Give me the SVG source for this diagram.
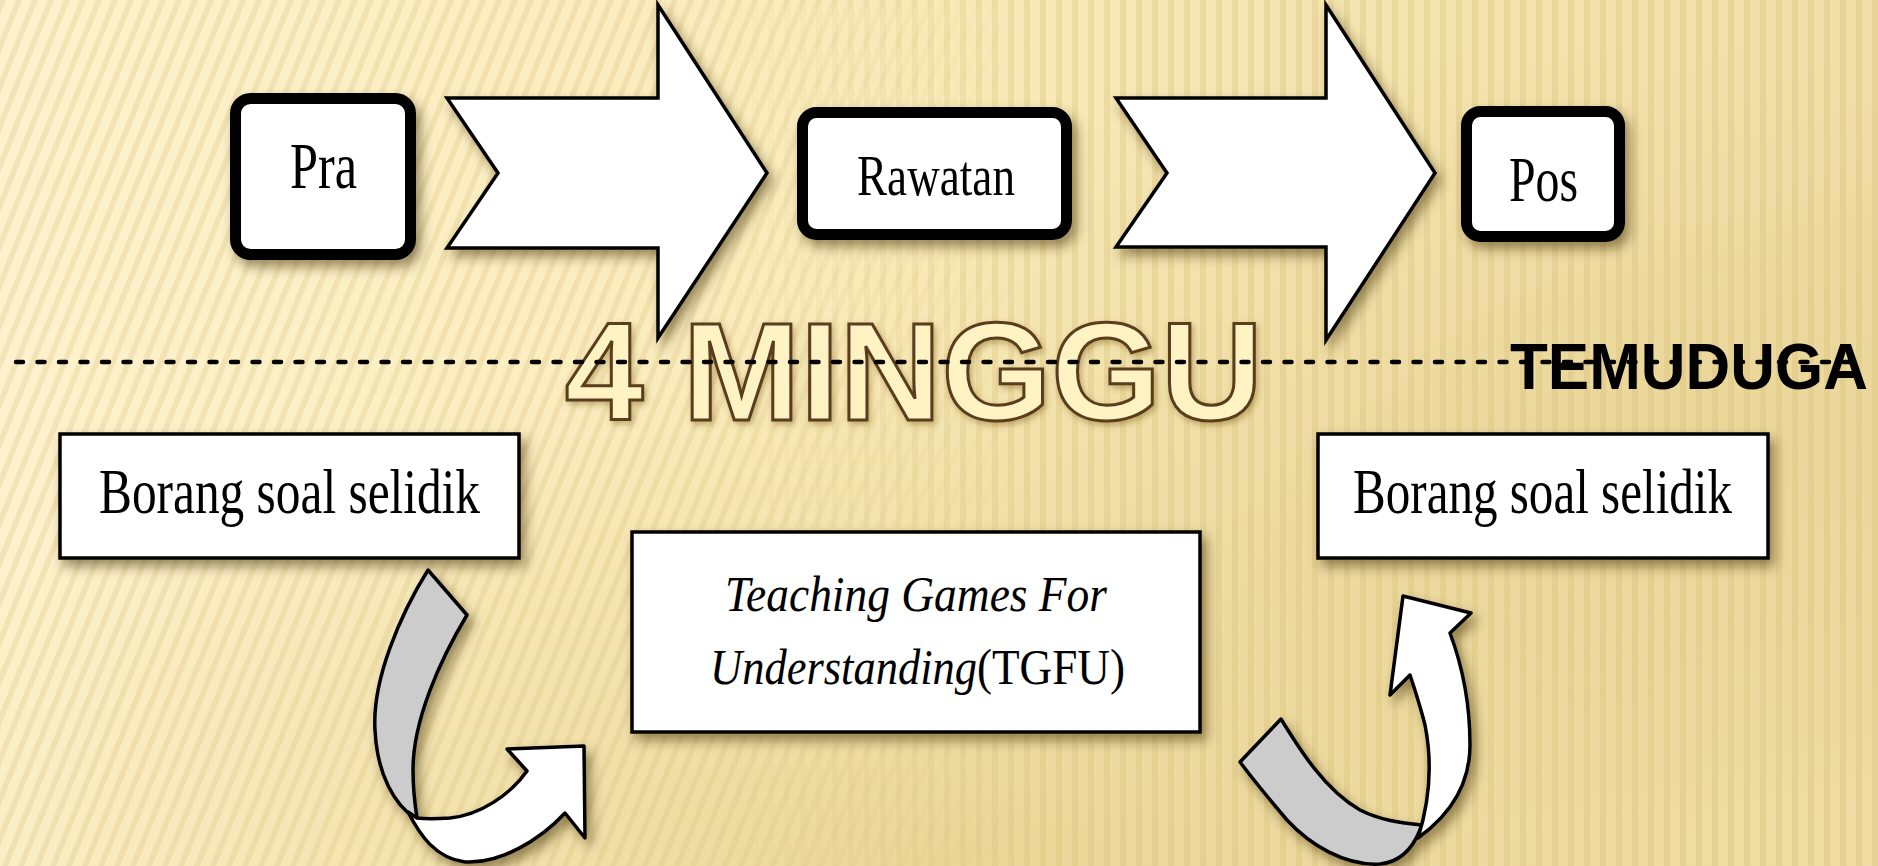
<svg xmlns="http://www.w3.org/2000/svg" width="1878" height="866" viewBox="0 0 1878 866">
<defs>
  <linearGradient id="bgGrad" x1="0" y1="0" x2="1" y2="0">
    <stop offset="0" stop-color="#fdf2cc"/>
    <stop offset="0.45" stop-color="#f9ebb9"/>
    <stop offset="1" stop-color="#f0dea5"/>
  </linearGradient>
  <radialGradient id="darkBottom" cx="0.5" cy="1" r="0.6">
    <stop offset="0" stop-color="#d9bf72" stop-opacity="0.45"/>
    <stop offset="1" stop-color="#d9bf72" stop-opacity="0"/>
  </radialGradient>
  <radialGradient id="darkRight" cx="0.85" cy="0.5" r="0.45">
    <stop offset="0" stop-color="#dcc27a" stop-opacity="0.35"/>
    <stop offset="1" stop-color="#dcc27a" stop-opacity="0"/>
  </radialGradient>
  <pattern id="stripesL" width="16" height="16" patternUnits="userSpaceOnUse" patternTransform="skewX(-22)">
    <rect x="0" y="0" width="6" height="16" fill="#d8bd76" fill-opacity="0.25"/>
  </pattern>
  <pattern id="stripesV" width="16" height="16" patternUnits="userSpaceOnUse">
    <rect x="0" y="0" width="6" height="16" fill="#cfb268" fill-opacity="0.25"/>
  </pattern>
  <linearGradient id="mL" x1="0" y1="0" x2="1" y2="0">
    <stop offset="0" stop-color="#fff"/>
    <stop offset="0.38" stop-color="#fff"/>
    <stop offset="0.55" stop-color="#000"/>
  </linearGradient>
  <linearGradient id="mV" x1="0" y1="0" x2="1" y2="0">
    <stop offset="0.38" stop-color="#000"/>
    <stop offset="0.55" stop-color="#fff"/>
  </linearGradient>
  <mask id="maskL"><rect width="1878" height="866" fill="url(#mL)"/></mask>
  <mask id="maskV"><rect width="1878" height="866" fill="url(#mV)"/></mask>
  <filter id="shadow" x="-20%" y="-20%" width="150%" height="150%">
    <feDropShadow dx="5" dy="7" stdDeviation="6" flood-color="#3a2a00" flood-opacity="0.5"/>
  </filter>
  <filter id="glow" x="-10%" y="-20%" width="120%" height="150%">
    <feDropShadow dx="2" dy="3" stdDeviation="3" flood-color="#6b4a10" flood-opacity="0.4"/>
  </filter>
</defs>
<style>
  .rbox { fill: #ffffff; stroke: #000000; stroke-width: 11; }
  .sbox { fill: #ffffff; stroke: #000000; stroke-width: 3.5; }
  .big { fill: #ffffff; stroke: #000000; stroke-width: 3.5; stroke-linejoin: miter; }
  .front { fill: #ffffff; stroke: #000000; stroke-width: 3.5; stroke-linejoin: round; }
  .back { fill: #cccccc; stroke: #000000; stroke-width: 3.5; stroke-linejoin: round; }
  .serif { font-family: "Liberation Serif", "Times New Roman", serif; fill: #000000; }
  .ital { font-style: italic; }
  .bold { font-family: "Liberation Sans", Arial, sans-serif; font-weight: bold; }
</style>

<!-- background -->
<rect width="1878" height="866" fill="url(#bgGrad)"/>
<rect width="1878" height="866" fill="url(#stripesL)" mask="url(#maskL)"/>
<rect width="1878" height="866" fill="url(#stripesV)" mask="url(#maskV)"/>
<rect width="1878" height="866" fill="url(#darkBottom)"/>
<rect width="1878" height="866" fill="url(#darkRight)"/>

<g id="connectors">
  <path class="big" filter="url(#shadow)" d="M447,98 L658,98 L658,5 L767,173 L658,338 L658,248 L447,248 L498,173 Z"/>
  <path class="big" filter="url(#shadow)" d="M1116,98 L1326,98 L1326,5 L1435,173 L1326,340 L1326,247 L1116,247 L1167,173 Z"/>
  <g filter="url(#shadow)">
    <path class="back" d="M428,570 L467,615 C440,660 413,720 413,770 C413,790 415,805 417,818 L415,818 C395,805 377,775 375,730 C372,680 400,615 428,570 Z"/>
    <path class="front" d="M408,812 C420,835 435,858 465,862 C500,864 540,840 565,813 L585,838 L584,746 L507,749 L527,771 C510,795 480,815 450,818 C435,819 425,819 417,818 Z"/>
  </g>
  <g filter="url(#shadow)">
    <path class="back" d="M1240,762 L1281,719 C1300,750 1325,790 1360,810 C1380,820 1400,823 1422,825 L1420,830 C1412,850 1400,862 1380,864 C1345,866 1310,845 1287,820 C1270,800 1255,782 1240,762 Z"/>
    <path class="front" d="M1418,838 C1430,800 1432,760 1425,725 C1420,705 1415,690 1410,675 L1390,695 L1403,596 L1471,613 L1450,633 C1462,665 1470,705 1470,745 C1470,785 1450,815 1418,838 Z"/>
  </g>
</g>

<g id="node-pra">
  <rect class="rbox" filter="url(#shadow)" x="235.5" y="98.5" width="175" height="156" rx="15"/>
  <text class="serif" x="290" y="188" font-size="65" textLength="67" lengthAdjust="spacingAndGlyphs">Pra</text>
</g>
<g id="node-rawatan">
  <rect class="rbox" filter="url(#shadow)" x="802.5" y="112.5" width="264" height="122" rx="14"/>
  <text class="serif" x="857" y="195" font-size="58" textLength="158" lengthAdjust="spacingAndGlyphs">Rawatan</text>
</g>
<g id="node-pos">
  <rect class="rbox" filter="url(#shadow)" x="1466.5" y="111.5" width="153" height="125" rx="14"/>
  <text class="serif" x="1509" y="201" font-size="64" textLength="69" lengthAdjust="spacingAndGlyphs">Pos</text>
</g>

<g id="node-borang-pra">
  <rect class="sbox" filter="url(#shadow)" x="60" y="434" width="459" height="124"/>
  <text class="serif" x="99" y="513" font-size="64" textLength="381" lengthAdjust="spacingAndGlyphs">Borang soal selidik</text>
</g>
<g id="node-tgfu">
  <rect class="sbox" filter="url(#shadow)" x="632" y="532" width="568" height="200"/>
  <text class="serif ital" x="725" y="611" font-size="50" textLength="382" lengthAdjust="spacingAndGlyphs">Teaching Games For</text>
  <text class="serif ital" x="710" y="684" font-size="50" textLength="267" lengthAdjust="spacingAndGlyphs">Understanding</text>
  <text class="serif" x="977" y="684" font-size="50" textLength="148" lengthAdjust="spacingAndGlyphs">(TGFU)</text>
</g>
<g id="node-borang-pos">
  <rect class="sbox" filter="url(#shadow)" x="1318" y="434" width="450" height="124"/>
  <text class="serif" x="1353" y="513" font-size="64" textLength="379" lengthAdjust="spacingAndGlyphs">Borang soal selidik</text>
</g>

<g id="label-minggu">
  <text class="bold" filter="url(#glow)" x="565" y="420" font-size="140" textLength="698" lengthAdjust="spacingAndGlyphs" fill="#fff3c4" stroke="#5a3c1e" stroke-width="3">4 MINGGU</text>
</g>
<g id="label-temuduga">
  <text class="bold" x="1510" y="389" font-size="64" textLength="358" lengthAdjust="spacingAndGlyphs" fill="#000000">TEMUDUGA</text>
</g>
<g id="divider">
  <line x1="16" y1="362" x2="1862" y2="362" stroke="#000000" stroke-width="4.5" stroke-linecap="round" stroke-dasharray="7 14.5"/>
</g>
</svg>
